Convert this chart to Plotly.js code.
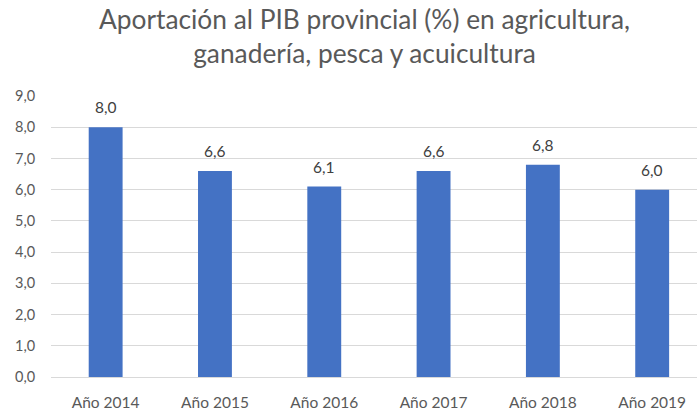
<!DOCTYPE html>
<html>
<head>
<meta charset="utf-8">
<script src="https://cdn.plot.ly/plotly-3.0.1.min.js"></script>
<style>html,body{margin:0;padding:0;background:#fff;overflow:hidden;}</style>
</head>
<body>
<div id="chart" style="width:697px;height:412px;"></div>
<script>
var categories = ["Año 2014", "Año 2015", "Año 2016", "Año 2017", "Año 2018", "Año 2019"];
var values = [8.0, 6.6, 6.1, 6.6, 6.8, 6.0];
var yTicks = [0, 1, 2, 3, 4, 5, 6, 7, 8, 9];

var trace = {
  type: 'bar',
  x: categories,
  y: values,
  marker: {color: '#4472C4'},
  hoverinfo: 'x+y'
};

var annotations = categories.map(function(c, i) {
  return {
    x: c, y: values[i], xref: 'x', yref: 'y',
    text: values[i].toFixed(1).replace('.', ','),
    showarrow: false, yanchor: 'bottom', yshift: 9,
    font: {family: 'Lato, "Open Sans", sans-serif', size: 15.5, color: '#404040'}
  };
});

var layout = {
  width: 697, height: 412,
  margin: {l: 51, r: 0, t: 96, b: 35},
  paper_bgcolor: '#ffffff',
  plot_bgcolor: '#ffffff',
  separators: ',.',
  showlegend: false,
  bargap: 0.69,
  title: {
    text: 'Aportación al PIB provincial (%) en agricultura,<br>ganadería, pesca y acuicultura',
    font: {family: 'Lato, "Open Sans", sans-serif', size: 26.3, color: '#595959'},
    x: 0.523, xref: 'container', xanchor: 'center',
    y: 0.93, yref: 'container', yanchor: 'top'
  },
  xaxis: {
    type: 'category',
    range: [-0.5, 5.41],
    showgrid: false,
    showline: true, linecolor: '#d9d9d9', linewidth: 1,
    ticks: 'outside', ticklen: 11, tickcolor: 'rgba(0,0,0,0)',
    tickfont: {family: 'Lato, "Open Sans", sans-serif', size: 15.5, color: '#595959'},
    fixedrange: true
  },
  yaxis: {
    range: [0, 9],
    tickvals: yTicks,
    tickformat: '.1f',
    showgrid: true, gridcolor: '#d9d9d9', gridwidth: 1,
    zeroline: false,
    showline: false,
    ticks: 'outside', ticklen: 12, tickcolor: 'rgba(0,0,0,0)',
    tickfont: {family: 'Lato, "Open Sans", sans-serif', size: 14.5, color: '#595959'},
    fixedrange: true
  },
  annotations: annotations
};

Plotly.newPlot('chart', [trace], layout, {displayModeBar: false, staticPlot: true});
</script>
</body>
</html>
